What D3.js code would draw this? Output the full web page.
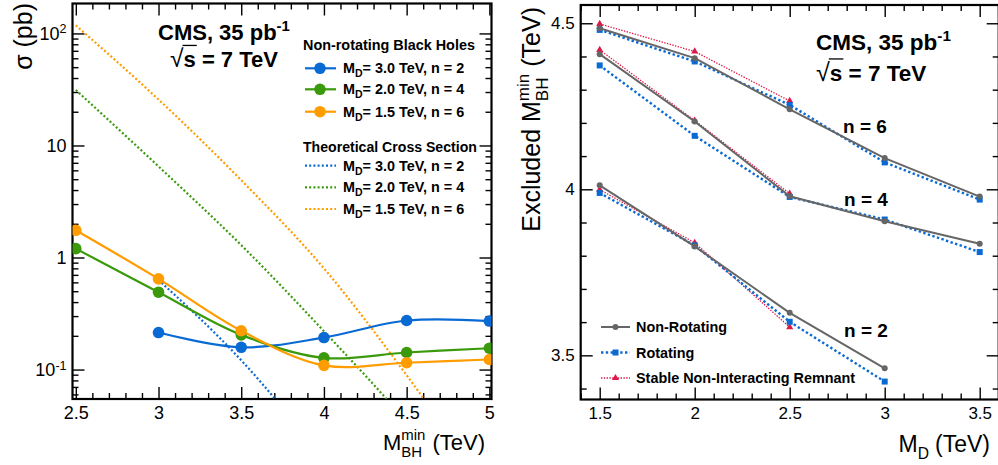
<!DOCTYPE html>
<html>
<head>
<meta charset="utf-8">
<script src="https://cdn.jsdelivr.net/npm/d3@7"></script>
<style>
  body { margin: 0; background: #fff; }
  text { font-family: "Liberation Sans", Arial, sans-serif; white-space: pre; }
</style>
</head>
<body>
<svg width="998" height="465"></svg>
<script>
// ---- left panel: cross section limits vs M_BH^min ----
var massBH = [2.5, 3.0, 3.5, 4.0, 4.5, 5.0];
var massBH_n2 = [3.0, 3.5, 4.0, 4.5, 5.0];
var sigmaN2 = [0.214, 0.158, 0.193, 0.274, 0.271];
var sigmaN4 = [1.20, 0.49, 0.204, 0.127, 0.142, 0.155];
var sigmaN6 = [1.75, 0.645, 0.222, 0.109, 0.115, 0.123];

var theoryMass = [2.5, 3.0, 3.5, 4.0, 4.5, 5.0];
var theoryMass_n2 = [3.0, 3.5, 4.0];
var theoryN2 = [0.63, 0.121, 0.016];
var theoryN4 = [31.3, 6.5, 1.29, 0.22, 0.034, 0.004];
var theoryN6 = [118, 25.7, 4.9, 0.80, 0.089, 0.008];

var leftLabels = ["M_D= 3.0 TeV, n = 2", "M_D= 2.0 TeV, n = 4", "M_D= 1.5 TeV, n = 6"];

// ---- right panel: excluded M_BH^min vs M_D ----
var MD = [1.5, 2.0, 2.5, 3.0, 3.5];
var MD_n2 = [1.5, 2.0, 2.5, 3.0];
var MD_rem = [1.5, 2.0, 2.5];
var n6NonRot = [4.485, 4.395, 4.241, 4.094, 3.978];
var n6Rot    = [4.480, 4.385, 4.254, 4.081, 3.969];
var n6Rem    = [4.498, 4.415, 4.266];
var n4NonRot = [4.407, 4.204, 3.979, 3.904, 3.836];
var n4Rot    = [4.373, 4.161, 3.977, 3.909, 3.811];
var n4Rem    = [4.420, 4.207, 3.987];
var n2NonRot = [4.012, 3.828, 3.628, 3.461];
var n2Rot    = [3.989, 3.831, 3.601, 3.421];
var n2Rem    = [3.999, 3.839, 3.585];

var rightLabels = ["Non-Rotating", "Rotating", "Stable Non-Interacting Remnant"];

var cBlue = "#0a6ad4", cGreen = "#3a9a0c", cOrange = "#ff9c00";
var cGray = "#666666", cRBlue = "#0a6ad4", cRed = "#dc1a48";

var svg = d3.select("svg");

var xL = d3.scaleLinear().domain([2.48, 5.013]).range([72.5, 491.5]);
var yL = d3.scaleLog().domain([0.0546, 185]).range([399, 3.5]);
var xR = d3.scaleLinear().domain([1.4, 3.6]).range([580.7, 998.7]);
var yR = d3.scaleLinear().domain([3.367, 4.555]).range([399.5, 5]);

function zip(xs, ys) { return xs.map(function(v, i) { return [v, ys[i]]; }); }

function ticks(g, axis) {
  g.call(axis);
  g.select(".domain").remove();
  g.selectAll(".tick line").attr("stroke", "#000").attr("stroke-width", 1.4);
}

function drawAxes(g, x, y, xMaj, xMin, yMaj, yMin, fs, yFmt) {
  var x0 = x.range()[0], x1 = x.range()[1], y0 = y.range()[0], y1 = y.range()[1];
  var bot = g.append("g").attr("transform", "translate(0," + y0 + ")");
  ticks(bot, d3.axisBottom(x).tickValues(xMaj).tickSizeInner(-12).tickSizeOuter(0).tickPadding(7).tickFormat(d3.format("")));
  bot.selectAll(".tick text").attr("font-size", fs).attr("fill", "#000");
  ticks(g.append("g").attr("transform", "translate(0," + y0 + ")"),
    d3.axisBottom(x).tickValues(xMin).tickSizeInner(-6).tickSizeOuter(0).tickFormat(""));
  ticks(g.append("g").attr("transform", "translate(0," + y1 + ")"),
    d3.axisTop(x).tickValues(xMaj).tickSizeInner(-12).tickSizeOuter(0).tickFormat(""));
  ticks(g.append("g").attr("transform", "translate(0," + y1 + ")"),
    d3.axisTop(x).tickValues(xMin).tickSizeInner(-6).tickSizeOuter(0).tickFormat(""));

  var lft = g.append("g").attr("transform", "translate(" + x0 + ",0)");
  ticks(lft, d3.axisLeft(y).tickValues(yMaj).tickSizeInner(-12).tickSizeOuter(0).tickPadding(6).tickFormat(yFmt));
  lft.selectAll(".tick text").attr("font-size", fs).attr("fill", "#000");
  ticks(g.append("g").attr("transform", "translate(" + x0 + ",0)"),
    d3.axisLeft(y).tickValues(yMin).tickSizeInner(-6).tickSizeOuter(0).tickFormat(""));
  ticks(g.append("g").attr("transform", "translate(" + x1 + ",0)"),
    d3.axisRight(y).tickValues(yMaj).tickSizeInner(-12).tickSizeOuter(0).tickFormat(""));
  ticks(g.append("g").attr("transform", "translate(" + x1 + ",0)"),
    d3.axisRight(y).tickValues(yMin).tickSizeInner(-6).tickSizeOuter(0).tickFormat(""));

  g.append("rect").attr("x", x0).attr("y", y1).attr("width", x1 - x0).attr("height", y0 - y1)
    .attr("fill", "none").attr("stroke", "#000").attr("stroke-width", 2.2);
  return lft;
}

// rich text: parts are strings or {sub, sup}
function rich(g, parts, fs) {
  var cx = 0;
  parts.forEach(function(p) {
    if (typeof p === "string") {
      var s = g.append("text").attr("x", cx).attr("font-size", fs).text(p);
      cx += s.node().getComputedTextLength();
    } else {
      var w = 0;
      if (p.sup) {
        var a = g.append("text").attr("x", cx).attr("y", -fs * 0.45).attr("font-size", fs * 0.68).text(p.sup);
        w = Math.max(w, a.node().getComputedTextLength());
      }
      if (p.sub) {
        var b = g.append("text").attr("x", cx).attr("y", fs * 0.32).attr("font-size", fs * 0.68).text(p.sub);
        w = Math.max(w, b.node().getComputedTextLength());
      }
      cx += w + (p.gap || 0);
    }
  });
  return cx;
}

function cmsLabel(g, x, yb, fs, sx, sy) {
  var t = g.append("g").attr("transform", "translate(" + x + "," + yb + ")").attr("font-weight", "bold");
  t.append("text").attr("font-size", fs).text("CMS, 35 pb")
    .append("tspan").attr("dy", -fs * 0.42).attr("font-size", fs * 0.68).text("-1");
  var s = g.append("g").attr("transform", "translate(" + sx + "," + sy + ")").attr("font-weight", "bold");
  var r = s.append("text").attr("font-size", fs * 1.12).attr("font-weight", "normal").text("\u221A");
  var rw = r.node().getComputedTextLength();
  var ss = s.append("text").attr("x", rw).attr("font-size", fs).text("s");
  var sw = ss.node().getComputedTextLength();
  s.append("line").attr("x1", rw - 1).attr("x2", rw + sw + 1).attr("y1", -fs * 0.98).attr("y2", -fs * 0.98)
    .attr("stroke", "#000").attr("stroke-width", 1.3);
  s.append("text").attr("x", rw + sw).attr("font-size", fs).text("\u00A0= 7 TeV");
}

// ================= LEFT PANEL =================
var gL = svg.append("g");
var lftAxis = drawAxes(gL, xL, yL, massBH, d3.range(25, 51).map(function(d) { return d / 10; }).filter(function(d) { return massBH.indexOf(d) < 0; }),
  [0.1, 1, 10, 100],
  [0.06, 0.07, 0.08, 0.09, 0.2, 0.3, 0.4, 0.5, 0.6, 0.7, 0.8, 0.9, 2, 3, 4, 5, 6, 7, 8, 9, 20, 30, 40, 50, 60, 70, 80, 90],
  18, function(d) { return d === 1 ? "1" : "10"; });
lftAxis.selectAll(".tick text").each(function(d) {
  if (d === 0.1) d3.select(this).append("tspan").attr("dy", "-0.5em").attr("font-size", 12.5).text("-1");
  if (d === 100) d3.select(this).append("tspan").attr("dy", "-0.5em").attr("font-size", 12.5).text("2");
});

gL.append("clipPath").attr("id", "clipL").append("rect")
  .attr("x", xL.range()[0]).attr("y", yL.range()[1]).attr("width", xL.range()[1] - xL.range()[0]).attr("height", yL.range()[0] - yL.range()[1]);

var lineL = d3.line().x(function(d) { return xL(d[0]); }).y(function(d) { return yL(d[1]); });
var plotL = gL.append("g").attr("clip-path", "url(#clipL)");

var theory = [[theoryMass_n2, theoryN2, cBlue], [theoryMass, theoryN4, cGreen], [theoryMass, theoryN6, cOrange]];
theory.forEach(function(s) {
  plotL.append("path").datum(zip(s[0], s[1]))
    .attr("d", lineL.curve(d3.curveMonotoneX))
    .attr("fill", "none").attr("stroke", s[2]).attr("stroke-width", 2.2).attr("stroke-dasharray", "2,2.2");
});

var meas = [[massBH_n2, sigmaN2, cBlue], [massBH, sigmaN4, cGreen], [massBH, sigmaN6, cOrange]];
meas.forEach(function(s) {
  var pts = zip(s[0], s[1]);
  plotL.append("path").datum(pts)
    .attr("d", lineL.curve(d3.curveCatmullRom.alpha(0.5)))
    .attr("fill", "none").attr("stroke", s[2]).attr("stroke-width", 2.2);
  plotL.selectAll(null).data(pts).enter().append("circle")
    .attr("cx", function(d) { return xL(d[0]); }).attr("cy", function(d) { return yL(d[1]); })
    .attr("r", 5.8).attr("fill", s[2]);
});

cmsLabel(gL, 158, 40, 22, 170, 67);

// left legend
var legL = gL.append("g").attr("font-weight", "bold");
legL.append("text").attr("x", 303).attr("y", 50).attr("font-size", 14.4).text("Non-rotating Black Holes");
legL.append("text").attr("x", 303).attr("y", 152).attr("font-size", 14.1).text("Theoretical Cross Section");
var legRowsA = [68.3, 89.3, 111.7], legRowsB = [165.7, 187.3, 209];
[cBlue, cGreen, cOrange].forEach(function(c, i) {
  legL.append("line").attr("x1", 305).attr("x2", 336).attr("y1", legRowsA[i]).attr("y2", legRowsA[i])
    .attr("stroke", c).attr("stroke-width", 2.2);
  legL.append("circle").attr("cx", 320).attr("cy", legRowsA[i]).attr("r", 5.8).attr("fill", c);
  legL.append("line").attr("x1", 305).attr("x2", 336).attr("y1", legRowsB[i]).attr("y2", legRowsB[i])
    .attr("stroke", c).attr("stroke-width", 2.2).attr("stroke-dasharray", "2,2.2");
  [legRowsA[i], legRowsB[i]].forEach(function(yy) {
    var parts = leftLabels[i].split("_D");
    var t = legL.append("text").attr("x", 343).attr("y", yy + 5).attr("font-size", 14.4);
    t.append("tspan").text(parts[0]);
    t.append("tspan").attr("dy", 4).attr("font-size", 10.5).text("D");
    t.append("tspan").attr("dy", -4).text(parts[1]);
  });
});

// left axis titles
var tl = gL.append("g");
var wl = rich(tl, ["M", { sup: "min", sub: "BH", gap: 7 }, "(TeV)"], 22);
tl.attr("transform", "translate(" + (485 - wl) + ",450)");
var sg = gL.append("g");
var ws = rich(sg, ["\u03C3 (pb)"], 25);
sg.attr("transform", "translate(32,3) rotate(-90) translate(" + (-ws) + ",0)");

// ================= RIGHT PANEL =================
var gR = svg.append("g");
var rMaj = [1.5, 2, 2.5, 3, 3.5];
drawAxes(gR, xR, yR, rMaj, d3.range(14, 37).map(function(d) { return d / 10; }).filter(function(d) { return rMaj.indexOf(d) < 0; }),
  [3.5, 4, 4.5], [3.4, 3.6, 3.7, 3.8, 3.9, 4.1, 4.2, 4.3, 4.4],
  17, d3.format(""));

var lineR = d3.line().x(function(d) { return xR(d[0]); }).y(function(d) { return yR(d[1]); });
var plotR = gR.append("g");

function nonRot(xs, ys) {
  var pts = zip(xs, ys);
  plotR.append("path").datum(pts).attr("d", lineR).attr("fill", "none").attr("stroke", cGray).attr("stroke-width", 2);
  plotR.selectAll(null).data(pts).enter().append("circle")
    .attr("cx", function(d) { return xR(d[0]); }).attr("cy", function(d) { return yR(d[1]); })
    .attr("r", 3).attr("fill", cGray);
}
function rot(xs, ys) {
  var pts = zip(xs, ys);
  plotR.append("path").datum(pts).attr("d", lineR).attr("fill", "none").attr("stroke", cRBlue)
    .attr("stroke-width", 2.4).attr("stroke-dasharray", "2.4,2.4");
  plotR.selectAll(null).data(pts).enter().append("rect")
    .attr("x", function(d) { return xR(d[0]) - 3; }).attr("y", function(d) { return yR(d[1]) - 3; })
    .attr("width", 6).attr("height", 6).attr("fill", cRBlue);
}
var tri = d3.symbol().type(d3.symbolTriangle).size(22);
function rem(xs, ys) {
  var pts = zip(xs, ys);
  plotR.append("path").datum(pts).attr("d", lineR).attr("fill", "none").attr("stroke", cRed)
    .attr("stroke-width", 1.3).attr("stroke-dasharray", "1.4,1.4");
  plotR.selectAll(null).data(pts).enter().append("path").attr("d", tri)
    .attr("transform", function(d) { return "translate(" + xR(d[0]) + "," + yR(d[1]) + ")"; })
    .attr("fill", cRed);
}
rem(MD_rem, n6Rem); rot(MD, n6Rot); nonRot(MD, n6NonRot);
rem(MD_rem, n4Rem); rot(MD, n4Rot); nonRot(MD, n4NonRot);
rem(MD_rem, n2Rem); rot(MD_n2, n2Rot); nonRot(MD_n2, n2NonRot);

cmsLabel(gR, 816, 50, 22.5, 816, 81);

var nl = gR.append("g").attr("font-weight", "bold").attr("font-size", 19).attr("text-anchor", "middle");
nl.append("text").attr("x", 865).attr("y", 133).text("n = 6");
nl.append("text").attr("x", 866).attr("y", 206).text("n = 4");
nl.append("text").attr("x", 866).attr("y", 337).text("n = 2");

// right legend
var legR = gR.append("g").attr("font-weight", "bold");
var rRows = [327, 352.5, 378];
legR.append("line").attr("x1", 601).attr("x2", 630).attr("y1", rRows[0]).attr("y2", rRows[0]).attr("stroke", cGray).attr("stroke-width", 2);
legR.append("circle").attr("cx", 615.5).attr("cy", rRows[0]).attr("r", 3).attr("fill", cGray);
legR.append("line").attr("x1", 601).attr("x2", 630).attr("y1", rRows[1]).attr("y2", rRows[1]).attr("stroke", cRBlue).attr("stroke-width", 2.4).attr("stroke-dasharray", "2.4,2.4");
legR.append("rect").attr("x", 612.5).attr("y", rRows[1] - 3).attr("width", 6).attr("height", 6).attr("fill", cRBlue);
legR.append("line").attr("x1", 601).attr("x2", 630).attr("y1", rRows[2]).attr("y2", rRows[2]).attr("stroke", cRed).attr("stroke-width", 1.3).attr("stroke-dasharray", "1.4,1.4");
legR.append("path").attr("d", tri).attr("transform", "translate(615.5," + rRows[2] + ")").attr("fill", cRed);
rightLabels.forEach(function(l, i) {
  legR.append("text").attr("x", 636).attr("y", rRows[i] + 5).attr("font-size", 14.4).text(l);
});

// right axis titles
var tr = gR.append("g");
var wr = rich(tr, ["M", { sub: "D", gap: 6 }, "(TeV)"], 23);
tr.attr("transform", "translate(" + (990 - wr) + ",452)");
var ty = gR.append("g");
var wy = rich(ty, ["Excluded M", { sup: "min", sub: "BH", gap: 7 }, "(TeV)"], 25);
ty.attr("transform", "translate(540,7) rotate(-90) translate(" + (-wy) + ",0)");
</script>
</body>
</html>
